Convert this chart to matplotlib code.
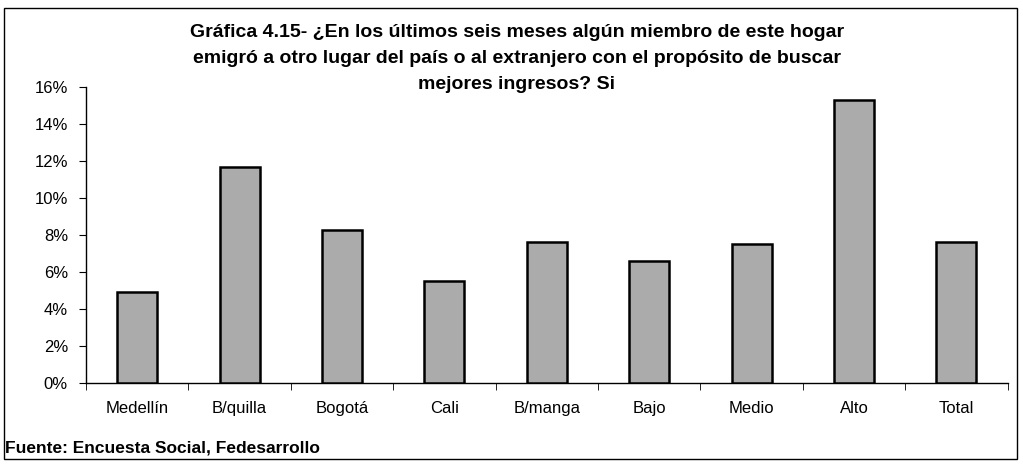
import numpy as np
import matplotlib
matplotlib.use("Agg")
from matplotlib import pyplot as plt
from matplotlib.patches import Rectangle

categories = ["Medellín", "B/quilla", "Bogotá", "Cali", "B/manga",
              "Bajo", "Medio", "Alto", "Total"]
values = [4.9, 11.7, 8.3, 5.5, 7.6, 6.6, 7.5, 15.3, 7.6]
yticks = [0, 2, 4, 6, 8, 10, 12, 14, 16]

title = ("Gráfica 4.15- ¿En los últimos seis meses algún miembro de este hogar\n"
         "emigró a otro lugar del país o al extranjero con el propósito de buscar\n"
         "mejores ingresos? Si")
source = "Fuente: Encuesta Social, Fedesarrollo"

plt.rcParams["font.family"] = ["Liberation Sans", "DejaVu Sans"]

fig = plt.figure(figsize=(10.23, 4.65), dpi=100)
ax = fig.add_axes([0.084, 0.176, 0.901, 0.637])

x = np.arange(len(categories))
ax.bar(x, values, width=0.39, color="#ababab", edgecolor="black", linewidth=1.8,
       zorder=3)

ax.set_xlim(-0.5, len(categories) - 0.5)
ax.set_ylim(0, 16)
ax.set_yticks(yticks)
ax.set_yticklabels(["{}%".format(t) for t in yticks], fontsize=12)
ax.set_xticks(x)
ax.set_xticklabels(categories, fontsize=12)
ax.tick_params(axis="x", length=0, pad=13)
ax.set_xticks(np.arange(len(categories) + 1) - 0.5, minor=True)
ax.tick_params(axis="x", which="minor", length=5, direction="out")
ax.tick_params(axis="y", length=5, direction="out", pad=8)

for s in ["top", "right"]:
    ax.spines[s].set_visible(False)
ax.spines["left"].set_linewidth(1.0)
ax.spines["bottom"].set_linewidth(1.0)

fig.text(0.505, 0.948, title, ha="center", va="top", fontsize=14,
         fontweight="bold", linespacing=1.68)
fig.text(0.005, 0.02, source, ha="left", va="bottom", fontsize=12.5,
         fontweight="bold")

# outer frame of the chart
fig.patches.append(Rectangle((0.004, 0.012), 0.99, 0.97, transform=fig.transFigure,
                             fill=False, edgecolor="black", linewidth=1.0))

fig.savefig("out.png", dpi=100)
